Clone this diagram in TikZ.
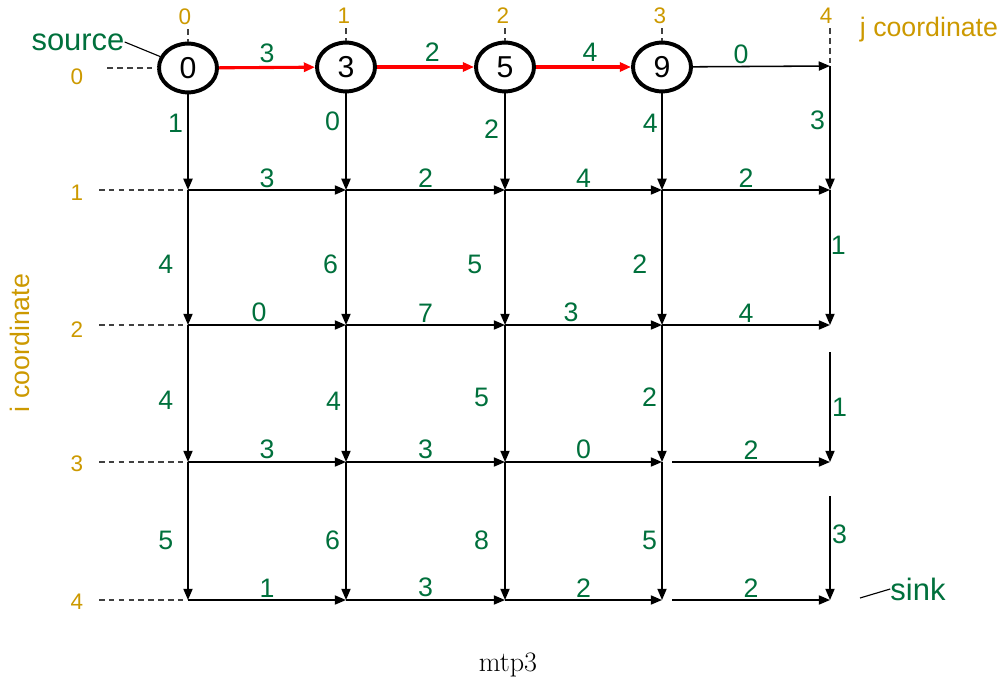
\documentclass[tikz,border=0pt]{standalone}
\usepackage{fontspec}
\setsansfont{Liberation Sans}
\usetikzlibrary{shapes,arrows.meta,positioning}
\definecolor{wgreen}{RGB}{0,112,60}
\definecolor{axgold}{RGB}{204,153,0}
\tikzset{
  cell/.style={ellipse, draw, line width=2.8pt, minimum width=1.45cm, minimum height=1.22cm, inner sep=0pt, font=\sffamily\fontsize{21.5}{24}\selectfont},
  wt/.style={inner sep=0pt, text=wgreen, font=\sffamily\fontsize{19}{22}\selectfont},
  ax/.style={inner sep=0pt, text=axgold, font=\sffamily\fontsize{16}{19}\selectfont},
  axname/.style={inner sep=0pt, text=axgold, font=\sffamily\fontsize{19}{22}\selectfont},
  tag/.style={inner sep=0pt, text=wgreen, font=\sffamily\fontsize{22}{26}\selectfont},
  edge/.style={-{Triangle[length=8pt,width=6.5pt]}, line width=1.1pt},
  redge/.style={-{Triangle[length=8pt,width=6.5pt]}, line width=2.2pt, color=red},
  guide/.style={dash pattern=on 4pt off 3pt, line width=0.9pt, black!75},
}
\begin{document}
\begin{tikzpicture}[x=0.025cm, y=-0.025cm]
\useasboundingbox (0,0) rectangle (1008,689);
% top row cells
\node[cell] (c0) at (188,68) {0};
\node[cell] (c1) at (346,67) {3};
\node[cell] (c2) at (505,67) {5};
\node[cell] (c3) at (662,67) {9};
\coordinate (p04) at (830,66);
% grid points
\coordinate (p10) at (188,190);
\coordinate (p11) at (346,190);
\coordinate (p12) at (505,190);
\coordinate (p13) at (662,190);
\coordinate (p14) at (830,190);
\coordinate (p20) at (188,325);
\coordinate (p21) at (346,325);
\coordinate (p22) at (505,325);
\coordinate (p23) at (662,325);
\coordinate (p24) at (830,325);
\coordinate (p30) at (188,462);
\coordinate (p31) at (346,462);
\coordinate (p32) at (505,462);
\coordinate (p33) at (662,462);
\coordinate (p34) at (830,462);
\coordinate (p40) at (188,600);
\coordinate (p41) at (346,600);
\coordinate (p42) at (505,600);
\coordinate (p43) at (662,600);
\coordinate (p44) at (830,600);
\coordinate (g24) at (830,352);
\coordinate (g34) at (830,496);
\coordinate (h33) at (672,462);
\coordinate (h43) at (672,600);
% axis numbers
\node[ax] (j0) at (185,17) {0};
\node[ax] (j1) at (344,16) {1};
\node[ax] (j2) at (503,16) {2};
\node[ax] (j3) at (660,16) {3};
\node[ax] (j4) at (826,16) {4};
\node[ax] (i0) at (77,77) {0};
\node[ax] (i1) at (77,193) {1};
\node[ax] (i2) at (77,330) {2};
\node[ax] (i3) at (77,464) {3};
\node[ax] (i4) at (77,602) {4};
\node[axname] (jname) at (929,30) {j coordinate};
\node[axname, rotate=90] (iname) at (20,343) {i coordinate};
\node[tag] (src) at (78,42) {source};
\node[tag] (sink) at (918,589) {sink};
\coordinate (sinkpt) at (860,598);
\node[font=\fontsize{20}{24}\selectfont, inner sep=0pt] (cap) at (508,665) {mtp3};
% guides
\draw[guide, shorten <=3pt] (j0.south -| c0.north) -- (c0.north);
\draw[guide, shorten <=3pt] (j1.south -| c1.north) -- (c1.north);
\draw[guide, shorten <=3pt] (j2.south -| c2.north) -- (c2.north);
\draw[guide, shorten <=3pt] (j3.south -| c3.north) -- (c3.north);
\draw[guide, shorten <=3pt] (j4.south -| p04) -- (p04);
\draw[guide, shorten <=17pt] (i0.east |- c0.west) -- (c0.west);
\draw[guide, shorten <=11pt] (i1.east |- p10) -- (p10);
\draw[guide, shorten <=11pt] (i2.east |- p20) -- (p20);
\draw[guide, shorten <=11pt] (i3.east |- p30) -- (p30);
\draw[guide, shorten <=11pt] (i4.east |- p40) -- (p40);
\draw[line width=0.8pt] (src.east) -- (c0);
\draw[line width=0.8pt] (sinkpt) -- (sink.west);
% row 0
\draw[redge] (c0) -- node[wt, above=2.5pt] {3} (c1);
\draw[redge] (c1) -- node[wt, pos=.57, above=2.5pt] {2} (c2);
\draw[redge] (c2) -- node[wt, pos=.57, above=2.5pt] {4} (c3);
\draw[edge] (c3) -- node[wt, pos=.35, above=1.5pt] {0} (p04);
% row 1
\draw[edge] (p10) -- node[wt, above=1pt] {3} (p11);
\draw[edge] (p11) -- node[wt, above=1pt] {2} (p12);
\draw[edge] (p12) -- node[wt, above=1pt] {4} (p13);
\draw[edge] (p13) -- node[wt, above=1pt] {2} (p14);
% row 2
\draw[edge] (p20) -- node[wt, pos=.45, above=1.5pt] {0} (p21);
\draw[edge] (p21) -- node[wt, above=1.5pt] {7} (p22);
\draw[edge] (p22) -- node[wt, pos=.42, above=1.5pt] {3} (p23);
\draw[edge] (p23) -- node[wt, above=1.5pt] {4} (p24);
% row 3
\draw[edge] (p30) -- node[wt, above=1.5pt] {3} (p31);
\draw[edge] (p31) -- node[wt, above=1.5pt] {3} (p32);
\draw[edge] (p32) -- node[wt, above=1.5pt] {0} (p33);
\draw[edge] (h33) -- node[wt, above=1.5pt] {2} (p34);
% row 4
\draw[edge] (p40) -- node[wt, above=1.5pt] {1} (p41);
\draw[edge] (p41) -- node[wt, above=1.5pt] {3} (p42);
\draw[edge] (p42) -- node[wt, above=1.5pt] {2} (p43);
\draw[edge] (h43) -- node[wt, above=1.5pt] {2} (p44);
% column 0
\draw[edge] (c0) -- node[wt, pos=.3, left=3pt] {1} (p10);
\draw[edge] (p10) -- node[wt, pos=.55, left=10pt] {4} (p20);
\draw[edge] (p20) -- node[wt, pos=.55, left=10pt] {4} (p30);
\draw[edge] (p30) -- node[wt, pos=.57, left=10pt] {5} (p40);
% column 1
\draw[edge] (c1) -- node[wt, pos=.29, left=3.8pt] {0} (p11);
\draw[edge] (p11) -- node[wt, pos=.55, left=5.2pt] {6} (p21);
\draw[edge] (p21) -- node[wt, pos=.56, left=3pt] {4} (p31);
\draw[edge] (p31) -- node[wt, pos=.57, left=3.8pt] {6} (p41);
% column 2
\draw[edge] (c2) -- node[wt, pos=.37, left=3.8pt] {2} (p12);
\draw[edge] (p12) -- node[wt, pos=.55, left=15.6pt] {5} (p22);
\draw[edge] (p22) -- node[wt, pos=.53, left=10.8pt] {5} (p32);
\draw[edge] (p32) -- node[wt, pos=.57, left=10.8pt] {8} (p42);
% column 3
\draw[edge] (c3) -- node[wt, pos=.31, left=2.4pt] {4} (p13);
\draw[edge] (p13) -- node[wt, pos=.55, left=10pt] {2} (p23);
\draw[edge] (p23) -- node[wt, pos=.53, left=3pt] {2} (p33);
\draw[edge] (p33) -- node[wt, pos=.57, left=3pt] {5} (p43);
% column 4
\draw[edge] (p04) -- node[wt, pos=.44, left=3pt] {3} (p14);
\draw[edge] (p14) -- node[wt, pos=.41, right=0pt] {1} (p24);
\draw[edge] (g24) -- node[wt, pos=.5, right=1pt] {1} (p34);
\draw[edge] (g34) -- node[wt, pos=.37, right=1pt] {3} (p44);
\end{tikzpicture}
\end{document}
